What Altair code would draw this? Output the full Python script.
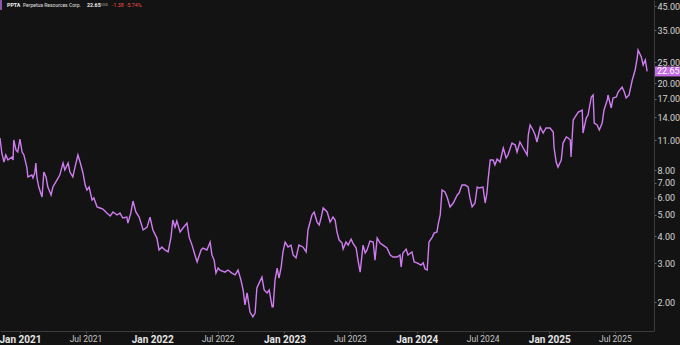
import altair as alt
import pandas as pd

dates = [
"2020-11-07","2020-11-12","2020-11-18","2020-11-23","2020-11-29","2020-12-10","2020-12-13","2020-12-15","2020-12-21","2020-12-26",
"2021-01-01","2021-01-07","2021-01-12","2021-01-20","2021-01-23","2021-02-03","2021-02-06","2021-02-11","2021-02-14","2021-02-17",
"2021-02-22","2021-03-03","2021-03-08","2021-03-14","2021-03-19","2021-03-28","2021-04-02","2021-04-13","2021-04-21","2021-04-30",
"2021-05-05","2021-05-14","2021-05-19","2021-05-27","2021-06-02","2021-06-10","2021-06-16","2021-06-24","2021-06-30","2021-07-05",
"2021-07-11","2021-07-19","2021-07-24","2021-08-02","2021-08-10","2021-08-18","2021-08-29","2021-09-07","2021-09-15","2021-09-26",
"2021-10-04","2021-10-12","2021-10-23","2021-10-26","2021-11-03","2021-11-09","2021-11-17","2021-11-26","2021-12-07","2021-12-18",
"2021-12-26","2022-01-03","2022-01-14","2022-01-20","2022-01-28","2022-02-05","2022-02-14","2022-02-22","2022-02-27","2022-03-05",
"2022-03-10","2022-03-19","2022-03-27","2022-04-07","2022-04-13","2022-04-21","2022-04-29","2022-05-05","2022-05-16","2022-05-21",
"2022-06-01","2022-06-10","2022-06-15","2022-06-21","2022-06-26","2022-07-02","2022-07-07","2022-07-21","2022-07-29","2022-08-09",
"2022-08-18","2022-08-26","2022-09-03","2022-09-09","2022-09-14","2022-09-20","2022-09-28","2022-10-06","2022-10-12","2022-10-17",
"2022-10-23","2022-10-31","2022-11-06","2022-11-14","2022-11-20","2022-11-28","2022-12-01","2022-12-06","2022-12-12","2022-12-17",
"2022-12-23","2022-12-28","2023-01-03","2023-01-11","2023-01-19","2023-01-25","2023-02-02","2023-02-10","2023-02-21","2023-03-02",
"2023-03-07","2023-03-18","2023-03-24","2023-04-01","2023-04-07","2023-04-12","2023-04-18","2023-04-29","2023-05-07","2023-05-15",
"2023-05-21","2023-05-26","2023-06-01","2023-06-09","2023-06-12","2023-06-20","2023-06-26","2023-07-04","2023-07-09","2023-07-18",
"2023-07-23","2023-07-29","2023-08-06","2023-08-12","2023-08-17","2023-08-25","2023-09-03","2023-09-08","2023-09-14","2023-09-22",
"2023-09-30","2023-10-11","2023-10-20","2023-10-28","2023-11-08","2023-11-16","2023-11-19","2023-11-24","2023-12-03","2023-12-08",
"2023-12-19","2023-12-25","2024-01-02","2024-01-13","2024-01-19","2024-01-24","2024-01-30","2024-02-04","2024-02-13","2024-02-18",
"2024-02-26","2024-02-29","2024-03-06","2024-03-11","2024-03-19","2024-03-25","2024-04-02","2024-04-11","2024-04-22","2024-04-27",
"2024-05-05","2024-05-14","2024-05-22","2024-05-27","2024-06-02","2024-06-10","2024-06-16","2024-06-21","2024-07-02","2024-07-08",
"2024-07-13","2024-07-16","2024-07-22","2024-07-30","2024-08-04","2024-08-10","2024-08-18","2024-08-27","2024-09-04","2024-09-09",
"2024-09-20","2024-09-29","2024-10-04","2024-10-12","2024-10-21","2024-11-01","2024-11-04","2024-11-09","2024-11-17","2024-11-23",
"2024-11-28","2024-12-07","2024-12-15","2024-12-23","2025-01-03","2025-01-12","2025-01-14","2025-01-20","2025-01-25","2025-02-03",
"2025-02-08","2025-02-17","2025-02-22","2025-02-28","2025-03-02","2025-03-08","2025-03-13","2025-03-22","2025-04-02","2025-04-04",
"2025-04-13","2025-04-18","2025-04-27","2025-05-02","2025-05-05","2025-05-13","2025-05-19","2025-05-27","2025-06-01","2025-06-10",
"2025-06-12","2025-06-21","2025-06-26","2025-07-05","2025-07-10","2025-07-21","2025-07-27","2025-08-01","2025-08-09","2025-08-18",
"2025-08-26","2025-09-01","2025-09-03","2025-09-12","2025-09-17","2025-09-23","2025-09-28",
]

prices = [
11.24,9.60,8.73,9.40,8.92,9.20,8.92,11.01,9.91,9.70,
11.12,9.70,9.40,8.28,7.46,7.61,7.38,7.78,8.64,7.38,
6.71,6.04,7.86,7.46,6.71,6.17,6.71,7.22,7.61,8.64,
8.03,8.64,7.86,7.46,8.28,9.40,8.73,7.78,6.85,6.50,
6.71,5.85,5.98,5.44,5.38,5.32,5.10,4.95,5.16,5.00,
5.10,4.84,4.89,4.59,5.10,5.79,5.16,4.89,4.27,4.40,
4.89,4.27,3.92,3.46,3.57,3.46,3.39,3.96,4.74,4.40,
4.69,4.18,4.36,4.59,3.96,3.64,3.28,3.05,3.46,3.53,
3.46,3.76,3.28,3.11,2.71,2.86,2.80,2.74,2.80,2.71,
2.66,2.80,2.52,2.27,1.94,2.20,1.80,1.71,1.78,2.32,
2.44,2.60,2.27,2.20,2.27,1.90,1.90,2.52,2.86,2.57,
2.89,3.39,3.76,3.57,3.64,3.28,3.18,3.64,3.57,3.39,
4.27,5.00,5.16,4.64,4.50,4.84,5.38,5.16,4.64,4.89,
4.74,4.18,3.84,3.72,3.49,3.76,3.64,3.88,3.72,3.53,
3.11,2.74,3.64,3.35,3.46,3.80,3.76,3.11,3.92,3.72,
3.64,3.53,3.28,3.21,3.21,3.28,2.89,3.35,3.49,3.28,
3.39,3.05,3.02,2.95,3.02,2.83,2.80,3.76,3.96,4.13,
4.18,4.50,5.00,6.50,6.37,6.04,5.44,5.67,6.17,6.30,
6.85,6.85,6.71,5.98,5.44,5.67,6.71,6.64,6.71,5.67,
6.30,7.22,8.92,8.92,8.46,9.01,8.73,10.12,9.11,9.40,
10.66,10.44,9.70,10.78,10.12,9.40,11.60,12.89,12.23,11.60,
10.78,12.62,11.85,12.49,12.49,11.97,10.22,8.73,8.28,8.92,
10.66,11.36,11.24,11.01,9.20,13.58,14.02,14.78,15.09,11.85,
13.87,14.32,17.31,17.67,13.16,12.89,12.23,13.16,15.09,16.77,
17.67,15.42,17.13,17.31,18.24,19.23,18.24,17.13,17.67,20.70,
23.00,26.36,28.38,26.36,24.24,25.55,22.65,
]

y_ticks = [2, 3, 4, 5, 6, 7, 8, 11, 14, 17, 20, 25, 35, 45]
x_ticks = ["2021-01-01", "2021-07-01", "2022-01-01", "2022-07-01", "2023-01-01",
           "2023-07-01", "2024-01-01", "2024-07-01", "2025-01-01", "2025-07-01"]

ticker = "PPTA"
company = "Perpetua Resources Corp."
last_price = "22.65"
currency = "USD"
change = "-1.38"
change_pct = "-5.74%"

df = pd.DataFrame({"date": pd.to_datetime(dates), "price": prices})
last_df = df.tail(1).assign(label=last_price)

LINE = "#cf7cf0"
BG = "#131313"
FONT = "Roboto"

x_enc = alt.X(
    "date:T",
    scale=alt.Scale(domain=["2020-11-07", "2025-10-17"]),
    axis=alt.Axis(
        values=[alt.DateTime(year=int(d[:4]), month=int(d[5:7]), date=1) for d in x_ticks],
        format="%b %Y",
        title=None,
        grid=False,
        domainColor="#3c3c3c",
        tickColor="#5a5a5a",
        tickSize=2,
        labelPadding=1,
        labelFont=FONT,
        labelFontSize={"condition": {"test": "month(datum.value) === 0", "value": 10}, "value": 8.5},
        labelFontWeight={"condition": {"test": "month(datum.value) === 0", "value": "bold"}, "value": "normal"},
        labelColor={"condition": {"test": "month(datum.value) === 0", "value": "#e6e6e6"}, "value": "#c8c8c8"},
        labelBaseline="top",
    ),
)

y_scale = alt.Scale(type="log", domain=[1.474, 48.05], nice=False, zero=False)

line = alt.Chart(df).mark_line(color=LINE, strokeWidth=1.4, clip=True).encode(
    x=x_enc,
    y=alt.Y(
        "price:Q",
        scale=y_scale,
        axis=alt.Axis(
            orient="right",
            values=y_ticks,
            format=".2f",
            title=None,
            grid=False,
            domainColor="#3c3c3c",
            tickColor="#6a6a6a",
            tickSize=2,
            labelPadding=1,
            labelFont=FONT,
            labelFontSize=9,
            labelColor="#d4d4d4",
        ),
    ),
)

badge = alt.Chart(last_df).mark_rule(color="#c46be6", strokeWidth=10).encode(
    x=alt.value(655), x2=alt.value(681),
    y=alt.Y("price:Q", scale=y_scale),
)
badge_text = alt.Chart(last_df).mark_text(
    color="#ffffff", font=FONT, fontSize=9, align="left", baseline="middle"
).encode(
    x=alt.value(657),
    y=alt.Y("price:Q", scale=y_scale),
    text="label:N",
)

hdr = pd.DataFrame({"t": [0]})
def htext(txt, x, color, size=5.3, weight="normal"):
    return alt.Chart(hdr).mark_text(
        text=txt, color=color, font=FONT, fontSize=size, fontWeight=weight,
        align="left", baseline="middle",
    ).encode(x=alt.value(x), y=alt.value(5))

bar = alt.Chart(hdr).mark_rule(color="#b86ce0", strokeWidth=1.5).encode(
    x=alt.value(1), y=alt.value(0), y2=alt.value(10)
)

header = [
    bar,
    htext(ticker, 7, "#f0f0f0", 5.3, "bold"),
    htext(company, 23, "#e0e0e0", 5.0),
    htext(last_price, 87, "#f0f0f0", 5.3, "bold"),
    htext(currency, 101, "#aaaaaa", 3.6),
    htext(change, 112, "#f0524a", 5.3),
    htext(change_pct, 126, "#f0524a", 5.3),
]

chart = alt.layer(line, badge, badge_text, *header).properties(
    width=654, height=331,
    background=BG,
    padding={"left": 0, "top": 0, "right": 26, "bottom": 14},
    autosize=alt.AutoSizeParams(type="none"),
).configure_view(stroke=None, fill=BG)

chart.save("out.html", embed_options={"renderer": "svg", "actions": False})
